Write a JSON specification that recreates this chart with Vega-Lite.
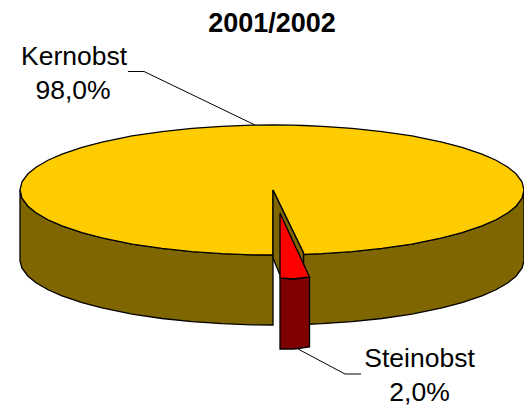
{
"$schema":"https://vega.github.io/schema/vega-lite/v6.json",
"width":524,"height":406,"padding":0,"autosize":{"type":"none"},
"background":"white",
"config":{"view":{"stroke":null}},
"layer":[
{"data":{"values":[
{"part":"wall left","x":-126,"y":0,"y2":-35.5},
{"part":"wall left","x":-125,"y":-4.09,"y2":-39.09},
{"part":"wall left","x":-122,"y":-8.12,"y2":-43.12},
{"part":"wall left","x":-118,"y":-11.4,"y2":-46.4},
{"part":"wall left","x":-112,"y":-14.89,"y2":-49.89},
{"part":"wall left","x":-105,"y":-17.97,"y2":-52.97},
{"part":"wall left","x":-95,"y":-21.35,"y2":-56.35},
{"part":"wall left","x":-85,"y":-23.99,"y2":-58.99},
{"part":"wall left","x":-70,"y":-27.02,"y2":-62.02},
{"part":"wall left","x":-55,"y":-29.24,"y2":-64.24},
{"part":"wall left","x":-40,"y":-30.82,"y2":-65.82},
{"part":"wall left","x":-25,"y":-31.85,"y2":-66.85},
{"part":"wall left","x":-10,"y":-32.4,"y2":-67.4},
{"part":"wall left","x":0.5,"y":-32.5,"y2":-67.5},
{"part":"wall right","x":15.75,"y":-32.25,"y2":-67.25},
{"part":"wall right","x":25,"y":-31.85,"y2":-66.85},
{"part":"wall right","x":40,"y":-30.82,"y2":-65.82},
{"part":"wall right","x":55,"y":-29.24,"y2":-64.24},
{"part":"wall right","x":70,"y":-27.02,"y2":-62.02},
{"part":"wall right","x":85,"y":-23.99,"y2":-58.99},
{"part":"wall right","x":95,"y":-21.35,"y2":-56.35},
{"part":"wall right","x":105,"y":-17.97,"y2":-52.97},
{"part":"wall right","x":112,"y":-14.89,"y2":-49.89},
{"part":"wall right","x":118,"y":-11.4,"y2":-46.4},
{"part":"wall right","x":122,"y":-8.12,"y2":-43.12},
{"part":"wall right","x":125,"y":-4.09,"y2":-39.09},
{"part":"wall right","x":126,"y":0,"y2":-35.5},
{"part":"Kernobst top","x":-126,"y":0,"y2":0},
{"part":"Kernobst top","x":-125,"y":4.09,"y2":-4.09},
{"part":"Kernobst top","x":-122,"y":8.12,"y2":-8.12},
{"part":"Kernobst top","x":-118,"y":11.4,"y2":-11.4},
{"part":"Kernobst top","x":-112,"y":14.89,"y2":-14.89},
{"part":"Kernobst top","x":-105,"y":17.97,"y2":-17.97},
{"part":"Kernobst top","x":-95,"y":21.35,"y2":-21.35},
{"part":"Kernobst top","x":-85,"y":23.99,"y2":-23.99},
{"part":"Kernobst top","x":-70,"y":27.02,"y2":-27.02},
{"part":"Kernobst top","x":-55,"y":29.24,"y2":-29.24},
{"part":"Kernobst top","x":-40,"y":30.82,"y2":-30.82},
{"part":"Kernobst top","x":-25,"y":31.85,"y2":-31.85},
{"part":"Kernobst top","x":-10,"y":32.4,"y2":-32.4},
{"part":"Kernobst top","x":0.49,"y":32.5,"y2":-32.5},
{"part":"Kernobst top","x":0.5,"y":32.5,"y2":0},
{"part":"Kernobst top","x":10,"y":32.4,"y2":-19.6},
{"part":"Kernobst top","x":15.75,"y":32.25,"y2":-31.5},
{"part":"Kernobst top","x":15.76,"y":32.25,"y2":-32.25},
{"part":"Kernobst top","x":25,"y":31.85,"y2":-31.85},
{"part":"Kernobst top","x":40,"y":30.82,"y2":-30.82},
{"part":"Kernobst top","x":55,"y":29.24,"y2":-29.24},
{"part":"Kernobst top","x":70,"y":27.02,"y2":-27.02},
{"part":"Kernobst top","x":85,"y":23.99,"y2":-23.99},
{"part":"Kernobst top","x":95,"y":21.35,"y2":-21.35},
{"part":"Kernobst top","x":105,"y":17.97,"y2":-17.97},
{"part":"Kernobst top","x":112,"y":14.89,"y2":-14.89},
{"part":"Kernobst top","x":118,"y":11.4,"y2":-11.4},
{"part":"Kernobst top","x":122,"y":8.12,"y2":-8.12},
{"part":"Kernobst top","x":125,"y":4.09,"y2":-4.09},
{"part":"Kernobst top","x":126,"y":0,"y2":0},
{"part":"notch wall","x":0.5,"y":0,"y2":-34},
{"part":"notch wall","x":4,"y":-7.3,"y2":-42.5},
{"part":"notch wall","x":15.75,"y":-31.5,"y2":-36},
{"part":"Steinobst side","x":4,"y":-44,"y2":-79.5},
{"part":"Steinobst side","x":11,"y":-44.5,"y2":-79.5},
{"part":"Steinobst side","x":18.75,"y":-43.5,"y2":-78.5},
{"part":"Steinobst top","x":4,"y":-11.5,"y2":-44},
{"part":"Steinobst top","x":11,"y":-26.7,"y2":-44.5},
{"part":"Steinobst top","x":18.75,"y":-43.5,"y2":-43.5}
]},
"mark":{"type":"area","stroke":"black","strokeWidth":1.3,"opacity":1},
"encoding":{
"x":{"field":"x","type":"quantitative","scale":{"domain":[-136,126],"nice":false,"zero":false},"axis":null},
"y":{"field":"y","type":"quantitative","scale":{"domain":[-108,95],"nice":false,"zero":false},"axis":null},
"y2":{"field":"y2"},
"color":{"field":"part","type":"nominal","legend":null,"sort":null,"scale":{"domain":["wall left","wall right","Kernobst top","notch wall","Steinobst side","Steinobst top"],"range":["#7F6600","#7F6600","#FFCC00","#7F6600","#7F0000","#FF0000"]}}
}},
{"data":{"values":[
{"leader":"Kernobst","i":1,"x":-72,"y":59.25},
{"leader":"Kernobst","i":2,"x":-64,"y":59.25},
{"leader":"Kernobst","i":3,"x":-8.5,"y":32.5},
{"leader":"Steinobst","i":1,"x":13,"y":-79.5},
{"leader":"Steinobst","i":2,"x":36.5,"y":-92},
{"leader":"Steinobst","i":3,"x":44.5,"y":-92}
]},
"mark":{"type":"line","color":"black","strokeWidth":1},
"encoding":{
"x":{"field":"x","type":"quantitative"},
"y":{"field":"y","type":"quantitative"},
"detail":{"field":"leader"},
"order":{"field":"i","type":"quantitative"}
}},
{"data":{"values":[
{"label":"Kernobst","x":-99,"y":62.5},
{"label":"98,0%","x":-99.5,"y":45.5},
{"label":"Steinobst","x":73.75,"y":-88.5},
{"label":"2,0%","x":73.75,"y":-105.5}
]},
"mark":{"type":"text","font":"Liberation Sans","fontSize":26.5,"align":"center","baseline":"alphabetic","color":"black"},
"encoding":{
"x":{"field":"x","type":"quantitative"},
"y":{"field":"y","type":"quantitative"},
"text":{"field":"label"}
}},
{"data":{"values":[{"label":"2001/2002","x":0,"y":79}]},
"mark":{"type":"text","font":"Liberation Sans","fontSize":27,"fontWeight":"bold","align":"center","baseline":"alphabetic","color":"black"},
"encoding":{
"x":{"field":"x","type":"quantitative"},
"y":{"field":"y","type":"quantitative"},
"text":{"field":"label"}
}}
]
}
